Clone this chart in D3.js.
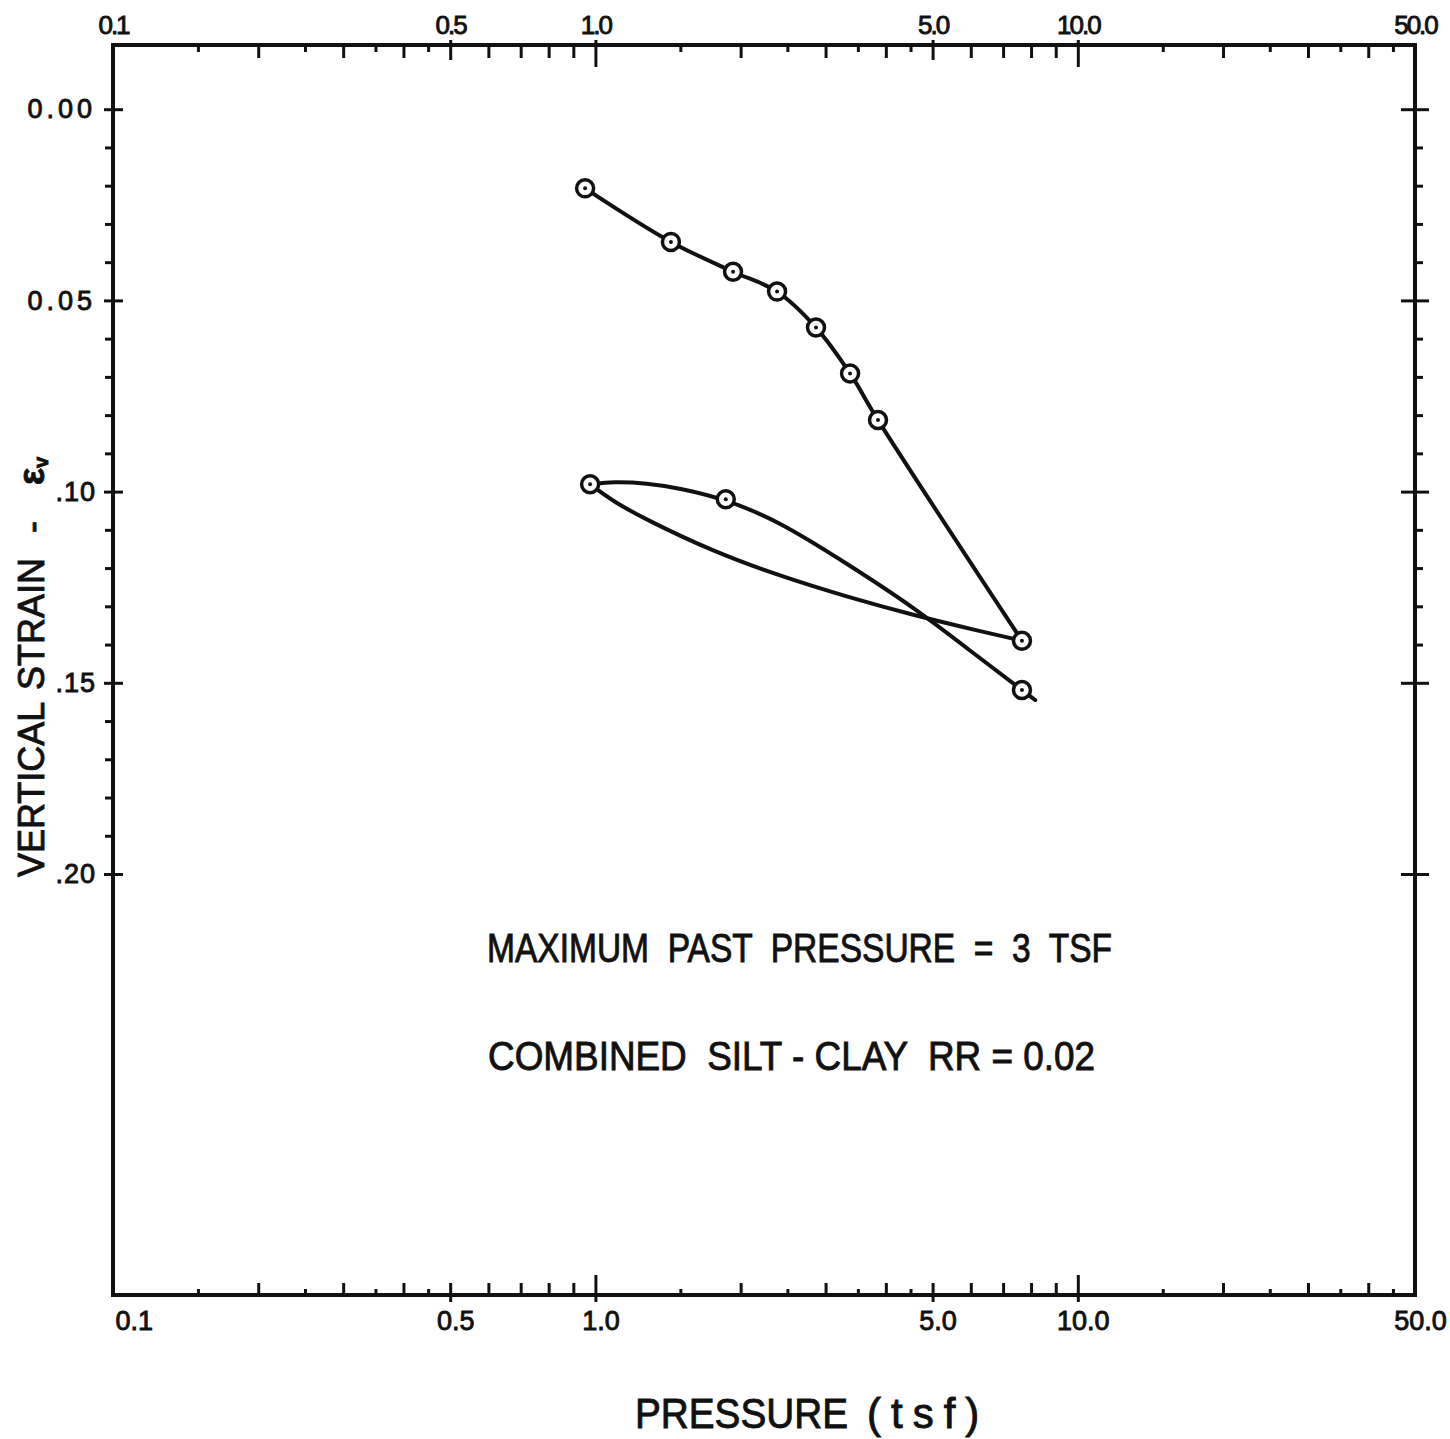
<!DOCTYPE html>
<html>
<head>
<meta charset="utf-8">
<script src="https://cdn.jsdelivr.net/npm/d3@7"></script>
<style>
    html, body { margin: 0; padding: 0; background: #fff; }
    svg { display: block; font-family: 'Liberation Sans', Arial, sans-serif; fill: #111; }
    svg text { stroke: #111; stroke-width: 0.9px; }
    .frame { fill: none; stroke: #111; stroke-width: 4; }
    .tick line { stroke: #111; stroke-width: 3; }
    .curve { fill: none; stroke: #111; stroke-width: 4; stroke-linejoin: round; stroke-linecap: round; }
    .pt { fill: #fff; stroke: #111; stroke-width: 3.5; }
    .dot { fill: #111; }
</style>
</head>
<body>
<script>
'use strict';

// pressure axis (log), tick labels and tick marks
const xTickValues = [0.1, 0.5, 1, 5, 10, 50];
const xTickLabels = ['0.1', '0.5', '1.0', '5.0', '10.0', '50.0'];
const xHalfTicks = [0.15, 0.25, 0.35, 0.45, 1.5, 2.5, 3.5, 4.5, 15, 25, 35, 45];
const xUnitTicks = [0.2, 0.3, 0.4, 0.6, 0.7, 0.8, 0.9, 2, 3, 4, 6, 7, 8, 9, 20, 30, 40];
const xFiveTicks = [0.5, 5];
const xDecadeTicks = [1, 10];

// strain axis
const yTickValues = [0, 0.05, 0.10, 0.15, 0.20];
const yTickLabels = ['0.00', '0.05', '.10', '.15', '.20'];
const yMinorLeft = [0.01, 0.02, 0.03, 0.04, 0.06, 0.07, 0.08, 0.09, 0.11, 0.12, 0.13, 0.14, 0.16, 0.17, 0.18, 0.19];
const yMinorRight = [0.01, 0.02, 0.03, 0.04, 0.06, 0.07, 0.08, 0.09, 0.11, 0.12, 0.13, 0.14];

// loading branch (measured points)
const loadPressure = [0.952, 1.434, 1.929, 2.380, 2.866, 3.372, 3.853, 7.66];
const loadStrain = [0.0207, 0.0347, 0.0425, 0.0477, 0.0571, 0.0691, 0.0813, 0.1390];

// unloading branch (8 tsf back to 1 tsf)
const unloadPressure = [0.975, 1.089, 1.277, 1.756, 2.414, 3.318, 4.560, 6.271, 7.66];
const unloadStrain = [0.0981, 0.1026, 0.1074, 0.1157, 0.1221, 0.1275, 0.1323, 0.1365, 0.1390];

// reloading branch
const reloadPressure = [0.975, 1.089, 1.277, 1.497, 1.863, 2.414, 3.318, 4.560, 6.271, 7.66, 8.16];
const reloadStrain = [0.0981, 0.0974, 0.0978, 0.0991, 0.1020, 0.1079, 0.1188, 0.1301, 0.1436, 0.1519, 0.1545];

// measured points of the unload / reload cycle
const cyclePressure = [0.975, 1.863, 7.66];
const cycleStrain = [0.0981, 0.1020, 0.1519];

const notes = ['MAXIMUM  PAST  PRESSURE  =  3  TSF', 'COMBINED  SILT - CLAY  RR = 0.02'];


(function () {

    const plot = { width: 1450, height: 1439, left: 113, right: 1415, top: 45, bottom: 1295 };

    const x = d3.scaleLog().domain([0.1, 50]).range([plot.left, plot.right]);
    const y = d3.scaleLinear().domain([0, 0.20]).range([109.2, 109.2 + 0.20 * 3824]);

    const svg = d3.select('body').append('svg')
        .attr('width', plot.width)
        .attr('height', plot.height);

    /**
     * One set of bare tick marks from a d3 axis (no domain line, no text).
     */
    function ticks(axisFn, scale, values, size, tx, ty) {
        const g = svg.append('g')
            .attr('transform', 'translate(' + tx + ',' + ty + ')')
            .call(axisFn(scale).tickValues(values).tickSize(size).tickSizeOuter(0).tickFormat(''));
        g.select('.domain').remove();
        return g;
    }

    // top axis: ticks hang down into the plot
    ticks(d3.axisBottom, x, xHalfTicks, 7, 0, plot.top);
    ticks(d3.axisBottom, x, xUnitTicks, 13, 0, plot.top);
    ticks(d3.axisBottom, x, xFiveTicks, 15, 0, plot.top);
    ticks(d3.axisBottom, x, xDecadeTicks, 22, 0, plot.top);
    ticks(d3.axisTop, x, xFiveTicks.concat(xDecadeTicks), 5, 0, plot.top);

    // bottom axis: ticks point up
    ticks(d3.axisTop, x, xHalfTicks, 6, 0, plot.bottom);
    ticks(d3.axisTop, x, xUnitTicks, 12, 0, plot.bottom);
    ticks(d3.axisTop, x, xFiveTicks, 12, 0, plot.bottom);
    ticks(d3.axisTop, x, xDecadeTicks, 20, 0, plot.bottom);
    ticks(d3.axisBottom, x, xFiveTicks.concat(xDecadeTicks), 7, 0, plot.bottom);

    // left axis
    ticks(d3.axisLeft, y, yMinorLeft, 8, plot.left, 0);
    ticks(d3.axisLeft, y, yTickValues, 9, plot.left, 0);
    ticks(d3.axisRight, y, yTickValues, 10, plot.left, 0);

    // right axis
    ticks(d3.axisRight, y, yMinorRight, 8, plot.right, 0);
    ticks(d3.axisLeft, y, yTickValues, 14, plot.right, 0);
    ticks(d3.axisRight, y, yTickValues, 14, plot.right, 0);

    // frame
    svg.append('rect')
        .attr('class', 'frame')
        .attr('x', plot.left)
        .attr('y', plot.top)
        .attr('width', plot.right - plot.left)
        .attr('height', plot.bottom - plot.top);

    // tick labels
    const labelFont = "'Liberation Sans', Arial, sans-serif";

    const topLabels = svg.append('g')
        .attr('transform', 'translate(0,' + plot.top + ')')
        .call(d3.axisTop(x).tickValues(xTickValues).tickSize(0).tickPadding(11)
            .tickFormat((d, i) => xTickLabels[i]));
    topLabels.select('.domain').remove();
    topLabels.selectAll('text')
        .attr('fill', '#111')
        .style('font-size', '26px')
        .style('letter-spacing', '-2px')
        .style('font-family', labelFont);

    const bottomLabels = svg.append('g')
        .attr('transform', 'translate(0,' + plot.bottom + ')')
        .call(d3.axisBottom(x).tickValues(xTickValues).tickSize(0).tickPadding(16)
            .tickFormat((d, i) => xTickLabels[i]));
    bottomLabels.select('.domain').remove();
    bottomLabels.selectAll('text')
        .attr('fill', '#111')
        .attr('dx', (d, i) => i === 0 ? 2 : 5)
        .attr('text-anchor', (d, i) => i === 0 ? 'start' : 'middle')
        .style('font-size', '27px')
        .style('font-family', labelFont);

    // strain labels: the long ones are drawn wider, as in the lettering
    const leftLabels = svg.append('g')
        .attr('transform', 'translate(' + plot.left + ',0)')
        .call(d3.axisLeft(y).tickValues(yTickValues).tickSize(0).tickPadding(17)
            .tickFormat((d, i) => yTickLabels[i]));
    leftLabels.select('.domain').remove();
    leftLabels.selectAll('text')
        .attr('fill', '#111')
        .style('font-size', '27px')
        .style('letter-spacing', (d, i) => yTickLabels[i].length > 3 ? '4px' : '1px')
        .style('font-family', labelFont);

    // curves: loading goes through its points, the cycle branches are smoothed traces
    const pointLine = d3.line()
        .x(d => x(d[0]))
        .y(d => y(d[1]))
        .curve(d3.curveCatmullRom.alpha(0.5));
    const traceLine = d3.line()
        .x(d => x(d[0]))
        .y(d => y(d[1]))
        .curve(d3.curveBasis);

    svg.append('path')
        .attr('class', 'curve')
        .attr('d', pointLine(d3.zip(loadPressure, loadStrain)));
    svg.append('g').selectAll('path')
        .data([d3.zip(unloadPressure, unloadStrain), d3.zip(reloadPressure, reloadStrain)])
        .enter()
        .append('path')
        .attr('class', 'curve')
        .attr('d', traceLine);

    // measured points: open circle with centre dot
    const points = d3.zip(loadPressure, loadStrain).concat(d3.zip(cyclePressure, cycleStrain));
    const marks = svg.append('g').selectAll('g')
        .data(points)
        .enter()
        .append('g')
        .attr('transform', d => 'translate(' + x(d[0]) + ',' + y(d[1]) + ')');
    marks.append('circle').attr('class', 'pt').attr('r', 8.5);
    marks.append('circle').attr('class', 'dot').attr('r', 2);

    // notes inside the plot
    svg.append('text')
        .attr('x', 487).attr('y', 962)
        .attr('xml:space', 'preserve')
        .attr('textLength', 625).attr('lengthAdjust', 'spacingAndGlyphs')
        .style('font-size', '40px')
        .text(notes[0]);
    svg.append('text')
        .attr('x', 488).attr('y', 1070)
        .attr('xml:space', 'preserve')
        .attr('textLength', 607).attr('lengthAdjust', 'spacingAndGlyphs')
        .style('font-size', '40px')
        .text(notes[1]);

    // x title
    const xTitle = svg.append('text')
        .attr('y', 1428)
        .style('font-size', '42px');
    xTitle.append('tspan').attr('x', 635).attr('textLength', 213).attr('lengthAdjust', 'spacingAndGlyphs').text('PRESSURE');
    xTitle.append('tspan').attr('x', 867).style('letter-spacing', '10px').text('(tsf)');

    // y title, rotated
    const yTitle = svg.append('text')
        .attr('transform', 'translate(44,877) rotate(-90)')
        .style('font-size', '36px');
    yTitle.append('tspan').attr('x', 0).text('VERTICAL');
    yTitle.append('tspan').attr('x', 187).text('STRAIN');
    yTitle.append('tspan').attr('x', 344).text('-');
    yTitle.append('tspan').attr('x', 392).style('font-weight', 'bold').text('\u03b5');
    yTitle.append('tspan').attr('dy', 4).style('font-size', '20px').style('font-weight', 'bold').text('v');

})();
</script>
</body>
</html>
